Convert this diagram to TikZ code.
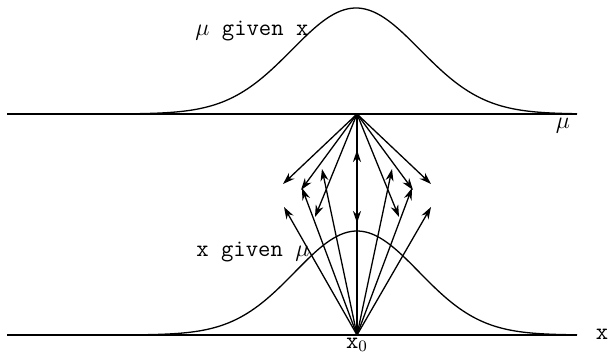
\documentclass[tikz,border=0pt]{standalone}
\usetikzlibrary{arrows.meta}

\begin{document}
\begin{tikzpicture}[x=0.5pt,y=0.5pt,
		lbl/.style={font=\fontsize{12}{14}\selectfont\ttfamily,inner sep=0pt},
		ray/.style={-{Stealth[length=6pt,width=4pt]},line width=0.65pt},
		curve/.style={line width=0.65pt}]
		
		\useasboundingbox (0,0) rectangle (609,355);
		
		% Axis mu (top) and axis x (bottom)
		\coordinate (muL) at (7,241);
		\coordinate (muR) at (577,241);
		\coordinate (xL) at (7,20);
		\coordinate (xR) at (577,20);
		\draw[curve] (muL) -- (muR);
		\draw[curve] (xL) -- (xR);
		
		% Bell curves
		\draw[curve] plot[domain=7:577,samples=160,smooth]
		(\x,{241+106*exp(-(((\x-356)/64)^2)/2)});
		\draw[curve] plot[domain=7:577,samples=160,smooth]
		(\x,{20+104*exp(-(((\x-357)/62)^2)/2)});
		
		% Sources of the arrows
		\coordinate (apex) at (357,241);
		\coordinate (xo) at (357,20);
		
		% Arrows down from the mu axis
		\foreach \name/\px/\py in {d1/283/171,d2/301/165,d3/315/138,d4/357/132,
			d5/399/138,d6/413/165,d7/431/171}{
			\coordinate (\name) at (\px,\py);
			\draw[ray] (apex) -- (\name);
		}
		
		% Arrows up from x0
		\foreach \name/\px/\py in {u1/284/148,u2/302/167,u3/322/186,u4/357/205,
			u5/392/186,u6/412/167,u7/431/148}{
			\coordinate (\name) at (\px,\py);
			\draw[ray] (xo) -- (\name);
		}
		
		% Labels
		\node[lbl,anchor=base west] (muGivenX) at (195,320) {$\mu$ given x};
		\node[lbl,anchor=base west] (xGivenMu) at (196,99) {x given $\mu$};
		\node[lbl,anchor=base] (muName) at (563,227) {$\mu$};
		\node[lbl] (xName) at (602,21) {x};
		\node[lbl] (xNought) at (357,10) {x$_0$};
		
	\end{tikzpicture}
\end{document}
